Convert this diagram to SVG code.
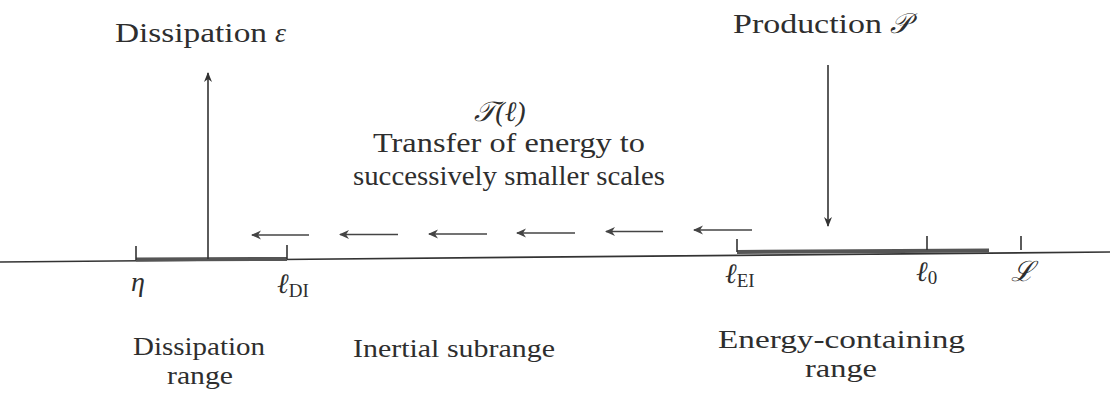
<svg xmlns="http://www.w3.org/2000/svg" width="1110" height="398" viewBox="0 0 1110 398">
<defs>
<marker id="ah" viewBox="0 0 10 10" refX="9" refY="5" markerWidth="10" markerHeight="10" markerUnits="userSpaceOnUse" orient="auto">
<path d="M0,1 L10,5 L0,9 L3,5 Z" fill="#333"/>
</marker>
<marker id="ahs" viewBox="0 0 10 10" refX="9" refY="5" markerWidth="12" markerHeight="10" markerUnits="userSpaceOnUse" orient="auto">
<path d="M0,0.5 L10,5 L0,9.5 L3,5 Z" fill="#444"/>
</marker>
<style>
text{fill:#2e2e2e;font-size:28px}
.m{font-style:italic}
.sub{font-size:19px;font-style:normal}
.two{font-size:26px}
.ln{stroke:#333;stroke-width:1.6;fill:none}
.bar{stroke:#555;stroke-width:4;fill:none}
.tr{stroke:#444;stroke-width:1.6;fill:none;marker-end:url(#ahs)}
</style>
</defs>
<rect width="1110" height="398" fill="#fff"/>
<g font-family="'Liberation Serif', 'DejaVu Serif', serif">
<g id="axis">
<line class="ln" x1="0" y1="262" x2="1110" y2="252"/>
</g>
<g id="dissipation-range">
<line class="bar" x1="136" y1="259.5" x2="287" y2="259"/>
<line class="ln" x1="136" y1="246" x2="136" y2="260"/>
<line class="ln" x1="287" y1="245" x2="287" y2="259"/>
<text x="131" y="291" class="m">η</text>
<text x="277" y="293" class="m">ℓ<tspan class="sub" dy="4">DI</tspan></text>
<text x="133" y="355" class="two" textLength="132" lengthAdjust="spacingAndGlyphs">Dissipation</text>
<text x="167" y="384" class="two" textLength="66" lengthAdjust="spacingAndGlyphs">range</text>
</g>
<g id="energy-range">
<line class="bar" x1="737" y1="252" x2="989" y2="250.5"/>
<line class="ln" x1="737" y1="239" x2="737" y2="252"/>
<line class="ln" x1="927" y1="236" x2="927" y2="250"/>
<line class="ln" x1="1021" y1="236" x2="1021" y2="250"/>
<text x="725" y="283" class="m">ℓ<tspan class="sub" dy="4">EI</tspan></text>
<text x="916" y="281" class="m">ℓ<tspan class="sub" dy="3">0</tspan></text>
<text x="1011" y="281" class="m">ℒ</text>
<text x="718" y="348" class="two" textLength="247" lengthAdjust="spacingAndGlyphs">Energy-containing</text>
<text x="805" y="377" class="two" textLength="72" lengthAdjust="spacingAndGlyphs">range</text>
</g>
<g id="inertial-range">
<text x="353" y="357" class="two" textLength="202" lengthAdjust="spacingAndGlyphs">Inertial subrange</text>
</g>
<g id="dissipation">
<text x="115" y="42"><tspan textLength="152" lengthAdjust="spacingAndGlyphs">Dissipation</tspan><tspan class="m" dx="8">ε</tspan></text>
</g>
<g id="production">
<text x="733" y="33"><tspan textLength="149" lengthAdjust="spacingAndGlyphs">Production</tspan><tspan class="m" dx="8">𝒫</tspan></text>
</g>
<g id="transfer">
<text x="500" y="121" text-anchor="middle" class="m">𝒯(ℓ)</text>
<text x="373" y="152" textLength="272" lengthAdjust="spacingAndGlyphs">Transfer of energy to</text>
<text x="353" y="185" textLength="312" lengthAdjust="spacingAndGlyphs">successively smaller scales</text>
</g>
<g id="connectors">
<line class="ln" x1="208" y1="259" x2="208" y2="73" marker-end="url(#ah)"/>
<line class="ln" x1="828" y1="65" x2="828" y2="226" marker-end="url(#ah)"/>
<line class="tr" x1="309" y1="235" x2="252" y2="235"/>
<line class="tr" x1="398" y1="234.5" x2="340" y2="234.5"/>
<line class="tr" x1="487" y1="234" x2="429" y2="234"/>
<line class="tr" x1="575" y1="233" x2="517" y2="233"/>
<line class="tr" x1="663" y1="231.5" x2="606" y2="231.5"/>
<line class="tr" x1="752" y1="230" x2="694" y2="230"/>
</g>
</g>
</svg>
